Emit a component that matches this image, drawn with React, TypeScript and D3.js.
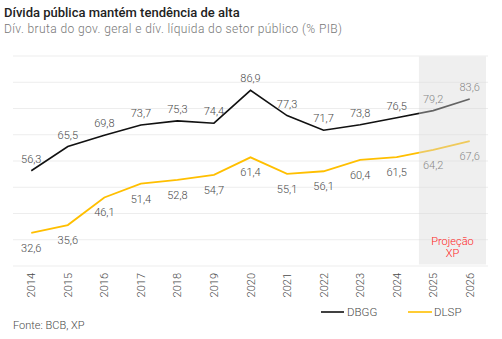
import React from "react";
import * as d3 from "d3";

const years = ["2014","2015","2016","2017","2018","2019","2020","2021","2022","2023","2024","2025","2026"];
const dbgg = [56.3,65.5,69.8,73.7,75.3,74.4,86.9,77.3,71.7,73.8,76.5,79.2,83.6];
const dlsp = [32.6,35.6,46.1,51.4,52.8,54.7,61.4,55.1,56.1,60.4,61.5,64.2,67.6];
const yTicks = [20,30,40,50,60,70,80,90,100];
const projectionYears = ["2025","2026"];

const W = 502, H = 339;
const font = "Roboto, 'Noto Sans', sans-serif";

export default function App() {
  const x = d3.scaleBand<string>().domain(years).range([13, 488]);
  const cx = (d: string) => (x(d) as number) + x.bandwidth() / 2;
  const y = d3.scaleLinear().domain([20, 100]).range([266, 56]);
  const line = d3.line<number>().x((_, i) => cx(years[i])).y((v) => y(v));
  const fmt = (v: number) => v.toFixed(1).replace(".", ",");
  const shadeX0 = (x(projectionYears[0]) as number) + 4;
  const shadeX1 = (x(projectionYears[1]) as number) + x.bandwidth() - 2;

  return (
    <svg width={W} height={H} style={{ position: "absolute", left: 0, top: 0, fontFamily: font }}>
      <rect width={W} height={H} fill="#fff" />
      <text x={4} y={17} fontSize={13} fill="#222" fontWeight={500}>Dívida pública mantém tendência de alta</text>
      <text x={4} y={32.5} fontSize={12} fill="#777" fontWeight={300} letterSpacing={0.4}>Dív. bruta do gov. geral e dív. líquida do setor público (% PIB)</text>
      {yTicks.map((t) => (
        <line key={t} x1={13} x2={488} y1={y(t)} y2={y(t)} stroke="#ededed" strokeWidth={1} />
      ))}
      <path d={line(dbgg) || ""} fill="none" stroke="#111" strokeWidth={1.6} />
      <path d={line(dlsp) || ""} fill="none" stroke="#ffbf00" strokeWidth={1.8} />
      {years.map((yr, i) => (
        <g key={yr}>
          <text x={cx(yr)} y={y(dbgg[i]) - 8} textAnchor="middle" fontSize={11} fill="#4a4a4a" fontWeight={300}>{fmt(dbgg[i])}</text>
          <text x={cx(yr)} y={y(dlsp[i]) + 19} textAnchor="middle" fontSize={11} fill="#4a4a4a" fontWeight={300}>{fmt(dlsp[i])}</text>
        </g>
      ))}
      <rect x={shadeX0} y={56.5} width={shadeX1 - shadeX0} height={208} fill="#d8d8d8" fillOpacity={0.42} />
      <text x={(shadeX0 + shadeX1) / 2} y={245} textAnchor="middle" fontSize={11} fill="#ff1a1a" fontWeight={300}>Projeção</text>
      <text x={(shadeX0 + shadeX1) / 2} y={257} textAnchor="middle" fontSize={11} fill="#ff1a1a" fontWeight={300}>XP</text>
      {years.map((yr) => (
        <text key={yr} transform={`translate(${cx(yr) + 4},273) rotate(-90)`} textAnchor="end" fontSize={11} fill="#4a4a4a" fontWeight={300}>{yr}</text>
      ))}
      <line x1={321} x2={344} y1={312} y2={312} stroke="#111" strokeWidth={1.6} />
      <text x={347} y={316} fontSize={11.5} fill="#4a4a4a" fontWeight={300}>DBGG</text>
      <line x1={408} x2={432} y1={312} y2={312} stroke="#ffbf00" strokeWidth={1.6} />
      <text x={434} y={316} fontSize={11.5} fill="#4a4a4a" fontWeight={300}>DLSP</text>
      <text x={13} y={329} fontSize={11} fill="#4a4a4a" fontWeight={300}>Fonte: BCB, XP</text>
    </svg>
  );
}
